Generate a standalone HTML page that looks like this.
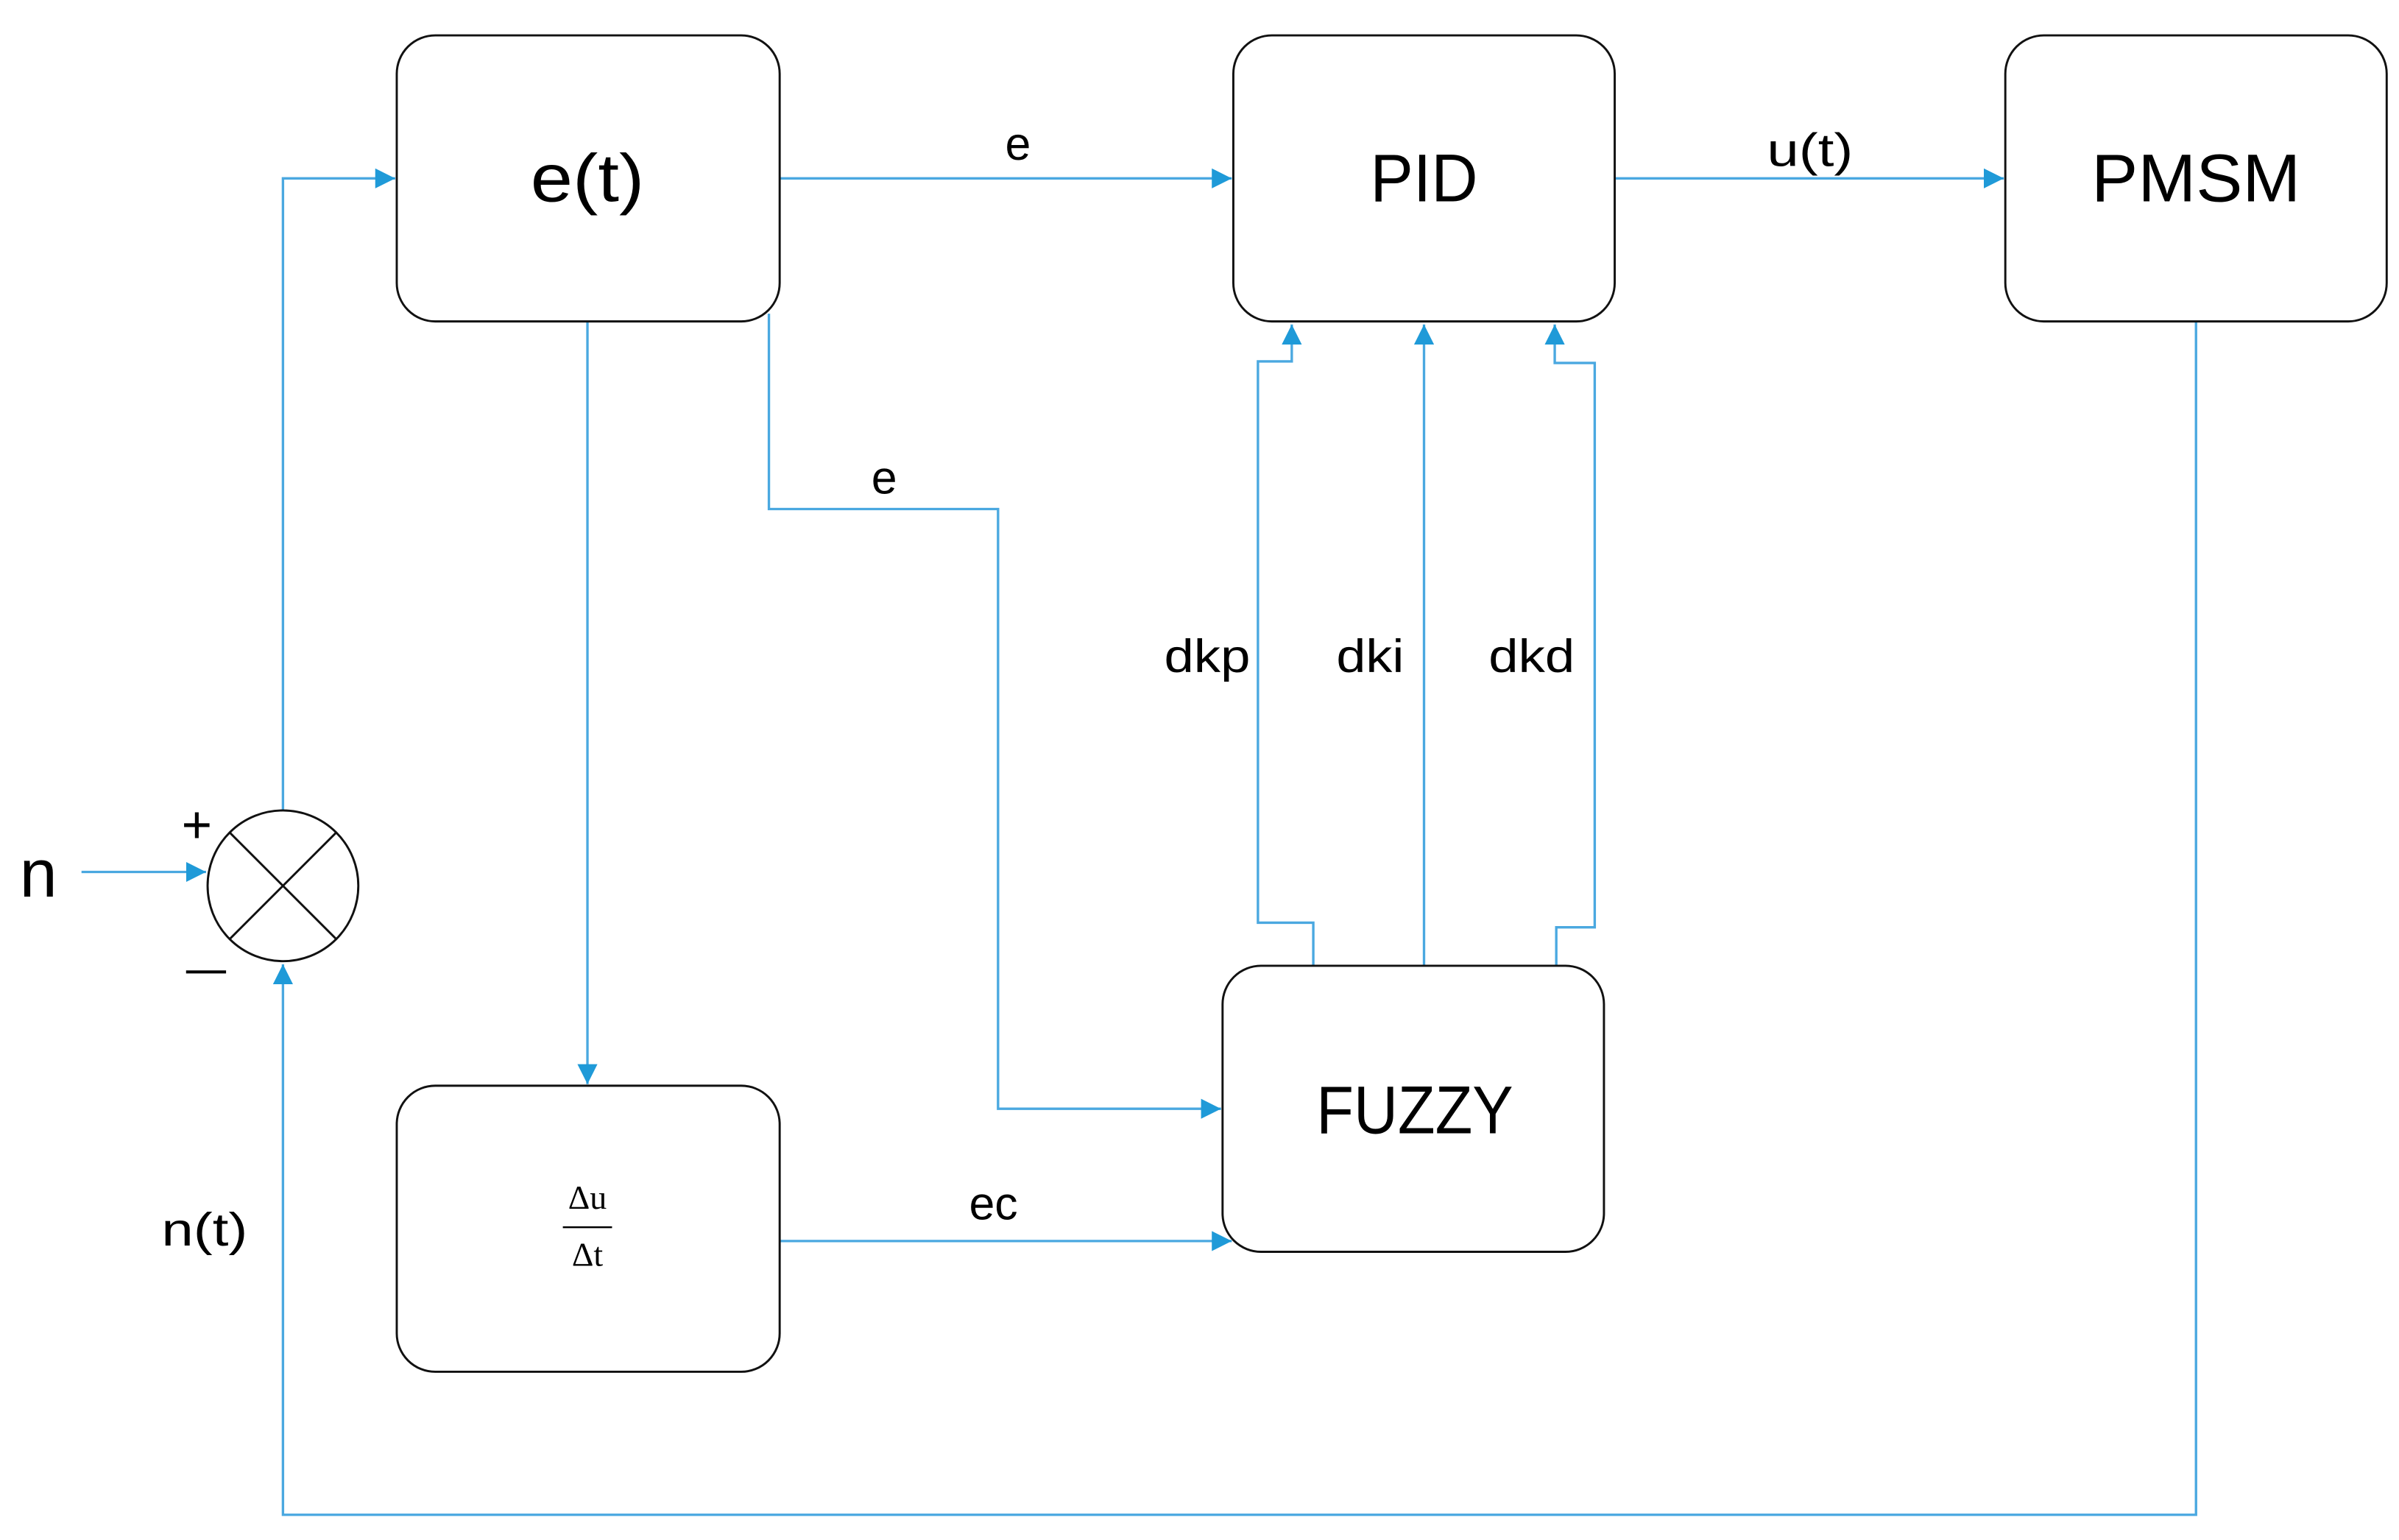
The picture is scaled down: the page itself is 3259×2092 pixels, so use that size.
<!DOCTYPE html>
<html><head><meta charset="utf-8"><style>
html,body{margin:0;padding:0;background:#fff;}
svg{display:block;}
text{font-family:"Liberation Sans",sans-serif;fill:#000;}
</style></head><body>
<svg width="3259" height="2092" viewBox="0 0 1560 1001.4" preserveAspectRatio="none" xmlns="http://www.w3.org/2000/svg">
<defs>
<marker id="a" viewBox="0 0 10 10" refX="10" refY="5" markerWidth="13" markerHeight="13" markerUnits="userSpaceOnUse" orient="auto">
<path d="M0,0 L10,5 L0,10 z" fill="#1f9ad8"/></marker>
</defs>
<g fill="none" stroke="#4aa8e0" stroke-width="1.6">
<polyline points="184,527 184,116 257,116" marker-end="url(#a)"/>
<line x1="507" y1="116" x2="801" y2="116" marker-end="url(#a)"/>
<line x1="1050" y1="116" x2="1303" y2="116" marker-end="url(#a)"/>
<polyline points="500,204 500,331 649,331 649,721 794,721" marker-end="url(#a)"/>
<line x1="382" y1="209" x2="382" y2="705" marker-end="url(#a)"/>
<line x1="507" y1="807" x2="801" y2="807" marker-end="url(#a)"/>
<polyline points="854,628 854,600 818,600 818,235 840,235 840,211" marker-end="url(#a)"/>
<line x1="926" y1="628" x2="926" y2="211" marker-end="url(#a)"/>
<polyline points="1012,628 1012,603 1037,603 1037,236 1011,236 1011,211" marker-end="url(#a)"/>
<polyline points="1428,209 1428,985 184,985 184,627" marker-end="url(#a)"/>
<line x1="53" y1="567" x2="134" y2="567" marker-end="url(#a)"/>
</g>
<g fill="#fff" stroke="#111" stroke-width="1.4">
<rect x="258" y="23" width="249" height="186" rx="25"/>
<rect x="802" y="23" width="248" height="186" rx="25"/>
<rect x="1304" y="23" width="248" height="186" rx="25"/>
<rect x="795" y="628" width="248" height="186" rx="25"/>
<rect x="258" y="706" width="249" height="186" rx="25"/>
<ellipse cx="184" cy="576" rx="49" ry="49"/>
<line x1="149" y1="541" x2="219" y2="611"/>
<line x1="219" y1="541" x2="149" y2="611"/>
</g>
<g font-size="44" text-anchor="middle">
<text x="382" y="131" textLength="74" lengthAdjust="spacingAndGlyphs">e(t)</text>
<text x="926" y="131" textLength="70" lengthAdjust="spacingAndGlyphs">PID</text>
<text x="1428" y="131" textLength="136" lengthAdjust="spacingAndGlyphs">PMSM</text>
<text x="920" y="737" textLength="128" lengthAdjust="spacingAndGlyphs">FUZZY</text>
<text x="25" y="583">n</text>
</g>
<g font-size="30" text-anchor="middle">
<text x="662" y="104">e</text>
<text x="1177" y="108" textLength="56" lengthAdjust="spacingAndGlyphs">u(t)</text>
<text x="575" y="321">e</text>
<text x="646" y="793">ec</text>
<text x="785" y="437" textLength="56" lengthAdjust="spacingAndGlyphs">dkp</text>
<text x="891" y="437" textLength="44" lengthAdjust="spacingAndGlyphs">dki</text>
<text x="996" y="437" textLength="56" lengthAdjust="spacingAndGlyphs">dkd</text>
<text x="133" y="810" textLength="56" lengthAdjust="spacingAndGlyphs">n(t)</text>
<text x="128" y="548" font-size="34">+</text>
</g>
<line x1="121" y1="632" x2="147" y2="632" stroke="#000" stroke-width="2"/>
<g text-anchor="middle" font-size="22">
<text x="382" y="786" style="font-family:'Liberation Serif',serif">Δu</text>
<text x="382" y="823" style="font-family:'Liberation Serif',serif">Δt</text>
</g>
<line x1="366" y1="798" x2="398" y2="798" stroke="#000" stroke-width="1.2"/>
</svg>
</body></html>
